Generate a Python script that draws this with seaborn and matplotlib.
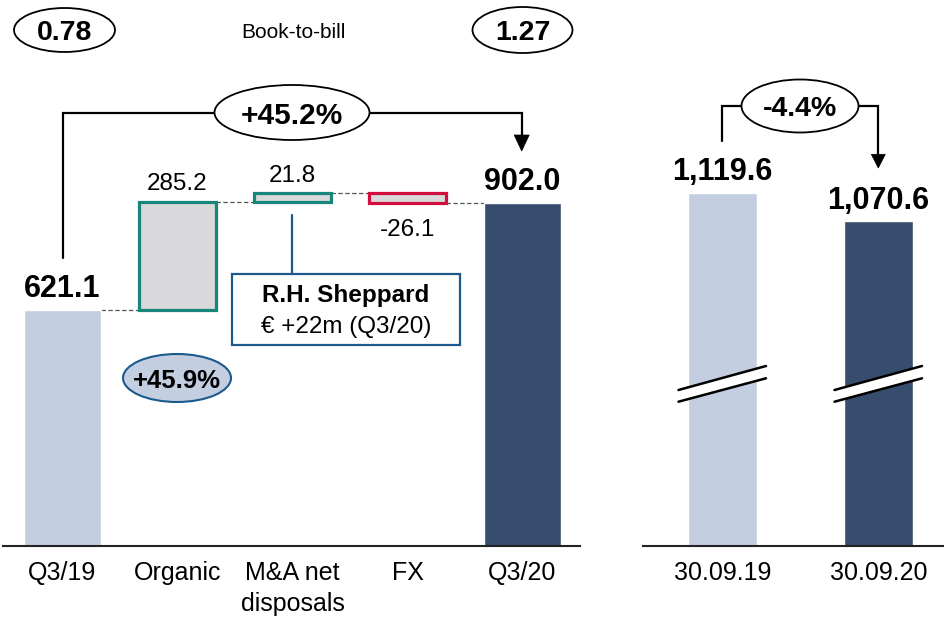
import numpy as np
import pandas as pd
import matplotlib
matplotlib.use("Agg")
import matplotlib.pyplot as plt
from matplotlib.patches import Ellipse, Rectangle, Polygon
from matplotlib.lines import Line2D
import seaborn as sns

# ---- data -------------------------------------------------------------
bridge_labels = ["Q3/19", "Organic", "M&A net\ndisposals", "FX", "Q3/20"]
start_total = 621.1
step_values = [285.2, 21.8, -26.1]
end_total = 902.0

backlog_labels = ["30.09.19", "30.09.20"]
backlog_values = [1119.6, 1070.6]

book_to_bill = ["0.78", "1.27"]
growth_total = "+45.2%"
growth_organic = "+45.9%"
backlog_change = "-4.4%"
acquisition_note = ["R.H. Sheppard", "€ +22m (Q3/20)"]

# ---- style ------------------------------------------------------------
LIGHT = "#C3CEE1"
DARK = "#374D6D"
STEP_FILL = "#D9D9DB"
TEAL = "#16877A"
CRIMSON = "#D10F3F"
NAVY = "#1C5A8D"
step_edges = [TEAL, TEAL, CRIMSON]

sns.set_theme(style="white")
plt.rcParams["font.family"] = ["Liberation Sans", "DejaVu Sans"]
plt.rcParams["text.color"] = "black"
plt.rcParams["xtick.color"] = "black"
plt.rcParams["axes.labelcolor"] = "black"

W, H = 945, 618
fig = plt.figure(figsize=(W / 100, H / 100), dpi=100)


def fx(x):
    return x / W


def fy(y):
    return 1 - y / H


axL = fig.add_axes([3 / W, 72 / H, 577 / W, 546 / H])
axR = fig.add_axes([643 / W, 72 / H, 302 / W, 546 / H])

# ---- order intake bridge ---------------------------------------------
bar_w = 0.67
tot_df = pd.DataFrame({"cat": [bridge_labels[0], bridge_labels[-1]],
                       "value": [start_total, end_total]})
sns.barplot(data=tot_df, x="cat", y="value", hue="cat", order=bridge_labels,
            palette={bridge_labels[0]: LIGHT, bridge_labels[-1]: DARK},
            width=bar_w, saturation=1, legend=False, ax=axL, zorder=2)

levels = start_total + np.cumsum([0] + step_values)
bottoms = levels[:-1]
axL.bar(np.arange(1, 4), step_values, bottom=bottoms, width=bar_w,
        color=STEP_FILL, edgecolor=step_edges, linewidth=2.3, zorder=3)

# dashed connectors between consecutive bars
for i, lvl in enumerate(levels):
    axL.plot([i + bar_w / 2, i + 1 - bar_w / 2], [lvl, lvl], color="#555555",
             lw=0.9, ls=(0, (3.5, 2)), zorder=1)

axL.set_xlim(-0.517, 4.5)
axL.set_ylim(0, 546 / 0.38)

# value labels
axL.annotate(f"{start_total:,.1f}", (0, start_total), xytext=(0, 9),
             textcoords="offset points", ha="center", va="baseline",
             fontsize=22, fontweight="bold")
axL.annotate(f"{end_total:,.1f}", (4, end_total), xytext=(0, 9.5),
             textcoords="offset points", ha="center", va="baseline",
             fontsize=22, fontweight="bold")
for i, v in enumerate(step_values):
    top = max(bottoms[i], bottoms[i] + v)
    low = min(bottoms[i], bottoms[i] + v)
    if v >= 0:
        axL.annotate(f"{v:.1f}", (i + 1, top), xytext=(0, 8),
                     textcoords="offset points", ha="center", va="baseline",
                     fontsize=17.5)
    else:
        axL.annotate(f"{v:.1f}", (i + 1, low), xytext=(0, -23.5),
                     textcoords="offset points", ha="center", va="baseline",
                     fontsize=17.5)

# ---- order backlog ----------------------------------------------------
bk_df = pd.DataFrame({"date": backlog_labels, "value": backlog_values})
sns.barplot(data=bk_df, x="date", y="value", hue="date",
            palette=[LIGHT, DARK], width=0.44, saturation=1, legend=False,
            ax=axR, zorder=2)
axR.set_xlim(-0.51, 1.426)
axR.set_ylim(507.9, 507.9 + 546 / 0.5776)
for i, v in enumerate(backlog_values):
    axR.annotate(f"{v:,.1f}", (i, v), xytext=(0, 8.8),
                 textcoords="offset points", ha="center", va="baseline",
                 fontsize=22, fontweight="bold")

for ax, labels in ((axL, bridge_labels), (axR, backlog_labels)):
    sns.despine(ax=ax, left=True)
    ax.set_yticks([])
    ax.set_xlabel("")
    ax.set_ylabel("")
    ax.set_xticks(range(len(labels)))
    ax.set_xticklabels(labels, linespacing=1.35)
    ax.tick_params(axis="x", length=0, pad=11, labelsize=18, colors="black")
    ax.spines["bottom"].set_color("#222222")
    ax.spines["bottom"].set_linewidth(1.5)
    ax.set_facecolor("none")

# ---- axis break marks on the backlog bars ----------------------------
for cx in (722.5, 878.5):
    x0, x1 = cx - 44, cx + 43.5
    gap = Polygon([(fx(x0), fy(390)), (fx(x1), fy(366)), (fx(x1), fy(378.3)),
                   (fx(x0), fy(401.7))], closed=True, transform=fig.transFigure,
                  facecolor="white", edgecolor="none", zorder=5)
    fig.add_artist(gap)
    for ya, yb in ((390, 366), (401.7, 378.3)):
        fig.add_artist(Line2D([fx(x0), fx(x1)], [fy(ya), fy(yb)],
                              transform=fig.transFigure, color="black",
                              lw=1.8, zorder=6))


# ---- callouts ---------------------------------------------------------
def poly(points, lw=1.6, color="black", z=4):
    xs = [fx(p[0]) for p in points]
    ys = [fy(p[1]) for p in points]
    fig.add_artist(Line2D(xs, ys, transform=fig.transFigure, color=color,
                          lw=lw, zorder=z, solid_joinstyle="miter"))


def arrow_head(x, y_top, y_tip, half=7.5):
    fig.add_artist(Polygon([(fx(x - half), fy(y_top)), (fx(x + half), fy(y_top)),
                            (fx(x), fy(y_tip))], closed=True,
                           transform=fig.transFigure, facecolor="black",
                           edgecolor="black", lw=0.5, zorder=4))


def oval(cx, cy, w, h, text, size, face="white", edge="black", lw=1.3):
    fig.add_artist(Ellipse((fx(cx), fy(cy)), w / W, h / H,
                           transform=fig.transFigure, facecolor=face,
                           edgecolor=edge, lw=lw, zorder=5))
    fig.text(fx(cx), fy(cy), text, ha="center", va="center_baseline",
             fontsize=size, fontweight="bold", zorder=6)


# book-to-bill
oval(64.5, 30, 101, 44, book_to_bill[0], 20.5)
oval(522.5, 30, 100, 46, book_to_bill[1], 20.5)
fig.text(fx(293), fy(31), "Book-to-bill", ha="center", va="center_baseline",
         fontsize=15)

# total growth bracket
poly([(63, 258), (63, 112.7), (521.7, 112.7), (521.7, 136)])
arrow_head(521.7, 135, 151)
oval(292, 112.5, 155, 55, growth_total, 21.5)

# organic growth
oval(177, 378, 108, 48, growth_organic, 18.5, face=LIGHT, edge=NAVY, lw=1.5)

# acquisition note
poly([(291.7, 215), (291.7, 274.3)], lw=1.6, color=NAVY)
fig.add_artist(Rectangle((fx(232.3), fy(345)), (460 - 232.3) / W, (345 - 274.3) / H,
                         transform=fig.transFigure, facecolor="white",
                         edgecolor=NAVY, lw=1.6, zorder=5))
fig.text(fx(346), fy(301.6), acquisition_note[0], ha="center", va="baseline",
         fontsize=17.5, fontweight="bold", zorder=6)
fig.text(fx(346), fy(333.5), acquisition_note[1], ha="center", va="baseline",
         fontsize=17.5, zorder=6)

# backlog change bracket
poly([(721.7, 141), (721.7, 106), (878.3, 106), (878.3, 155)])
arrow_head(878.3, 154.3, 168, half=7)
oval(800, 106, 117, 53, backlog_change, 20.5)

fig.savefig("out.png", dpi=100)
